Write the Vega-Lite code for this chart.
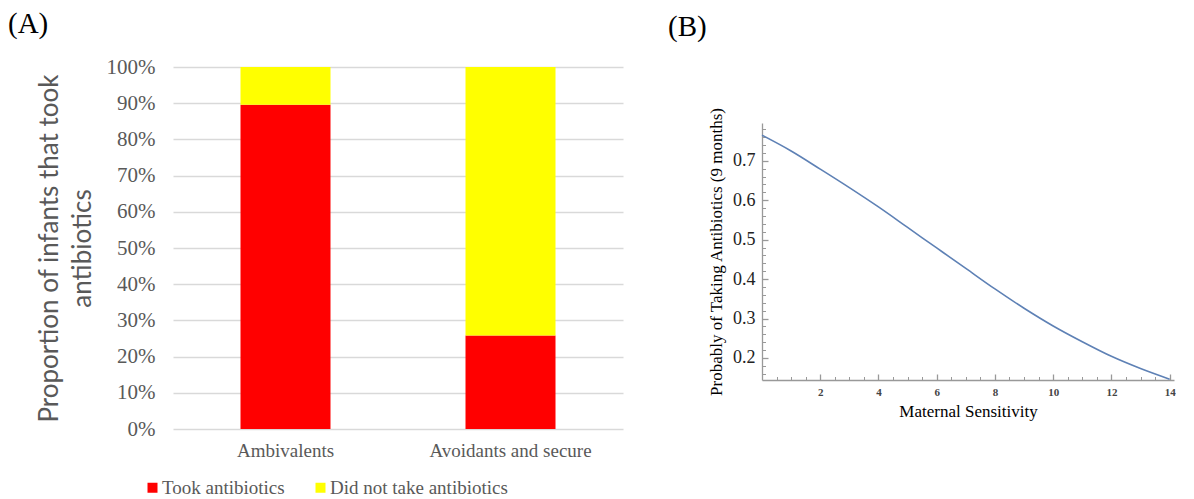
{
  "$schema": "https://vega.github.io/schema/vega-lite/v6.json",
  "background": "white",
  "padding": {"left": 8, "top": 10, "right": 0, "bottom": 0},
  "spacing": 45,
  "config": {"view": {"stroke": null}},
  "hconcat": [
    {
      "title": {"text": "(A)", "anchor": "start", "frame": "group", "dx": -165, "offset": 17, "font": "Liberation Serif", "fontSize": 29, "fontWeight": "normal", "color": "black"},
      "width": 450,
      "height": 362,
      "data": {"values": [
        {"group": "Ambivalents", "status": "Took antibiotics", "proportion": 0.896},
        {"group": "Ambivalents", "status": "Did not take antibiotics", "proportion": 0.104},
        {"group": "Avoidants and secure", "status": "Took antibiotics", "proportion": 0.258},
        {"group": "Avoidants and secure", "status": "Did not take antibiotics", "proportion": 0.742}
      ]},
      "mark": {"type": "bar"},
      "encoding": {
        "x": {"field": "group", "type": "nominal", "sort": null,
          "scale": {"paddingInner": 0.6, "paddingOuter": 0.3},
          "axis": {"title": null, "labelAngle": 0, "domain": false, "ticks": false, "labelFont": "Liberation Serif", "labelFontSize": 19, "labelColor": "#595959", "labelPadding": 12}},
        "y": {"field": "proportion", "type": "quantitative", "stack": "zero",
          "scale": {"domain": [0, 1], "nice": false},
          "axis": {"values": [0, 0.1, 0.2, 0.3, 0.4, 0.5, 0.6, 0.7, 0.8, 0.9, 1], "format": ".0%", "grid": true, "gridColor": "#d9d9d9", "gridWidth": 1.5, "domain": false, "ticks": false,
            "labelFont": "Liberation Serif", "labelFontSize": 21, "labelColor": "#595959", "labelPadding": 18,
            "title": ["Proportion of infants that took", "antibiotics"], "titleFont": "Lato", "titleFontSize": 26, "titleFontWeight": "normal", "titleColor": "#595959", "titlePadding": 11, "titleLineHeight": 33}},
        "color": {"field": "status", "type": "nominal",
          "scale": {"domain": ["Took antibiotics", "Did not take antibiotics"], "range": ["#ff0000", "#ffff00"]},
          "legend": {"title": null, "orient": "none", "legendX": -30, "legendY": 411, "direction": "horizontal", "symbolType": "square", "symbolSize": 100, "symbolStrokeWidth": 0, "labelFont": "Liberation Serif", "labelFontSize": 19, "labelColor": "#595959", "labelLimit": 0, "columnPadding": 26, "labelOffset": 0}},
        "order": {"field": "status", "sort": "descending"}
      }
    },
    {
      "title": {"text": "(B)", "anchor": "start", "frame": "group", "dx": -94, "offset": 25, "font": "Liberation Serif", "fontSize": 29, "fontWeight": "normal", "color": "black"},
      "width": 412,
      "height": 313,
      "data": {"values": [
        {"sensitivity": 0, "probability": 0.765},
        {"sensitivity": 1, "probability": 0.725},
        {"sensitivity": 2, "probability": 0.679},
        {"sensitivity": 3, "probability": 0.632},
        {"sensitivity": 4, "probability": 0.583},
        {"sensitivity": 5, "probability": 0.531},
        {"sensitivity": 6, "probability": 0.479},
        {"sensitivity": 7, "probability": 0.427},
        {"sensitivity": 8, "probability": 0.375},
        {"sensitivity": 9, "probability": 0.326},
        {"sensitivity": 10, "probability": 0.281},
        {"sensitivity": 11, "probability": 0.241},
        {"sensitivity": 12, "probability": 0.204},
        {"sensitivity": 13, "probability": 0.173},
        {"sensitivity": 14, "probability": 0.146}
      ]},
      "layer": [
        {
          "mark": {"type": "line", "interpolate": "monotone", "color": "#5e81b5", "strokeWidth": 1.6},
          "encoding": {
            "x": {"field": "sensitivity", "type": "quantitative", "scale": {"domain": [0, 14.15], "nice": false, "zero": false},
              "axis": {"orient": "bottom", "values": [2, 4, 6, 8, 10, 12, 14], "grid": false, "domainColor": "#999999", "domainWidth": 1.3, "tickColor": "#999999", "tickSize": -6, "tickWidth": 1.3,
                "labelFont": "Liberation Serif", "labelFontSize": 11, "labelFontWeight": "bold", "labelColor": "#444444", "labelPadding": 12,
                "title": "Maternal Sensitivity", "titleFont": "Liberation Serif", "titleFontSize": 17, "titleFontWeight": "normal", "titleColor": "black", "titlePadding": 6}},
            "y": {"field": "probability", "type": "quantitative", "scale": {"domain": [0.144, 0.796], "nice": false, "zero": false, "range": [313, 56]},
              "axis": {"orient": "left", "values": [0.2, 0.3, 0.4, 0.5, 0.6, 0.7], "format": ".1f", "grid": false, "domainColor": "#999999", "domainWidth": 1.3, "tickColor": "#999999", "tickSize": -6, "tickWidth": 1.3,
                "labelFont": "Liberation Serif", "labelFontSize": 18, "labelColor": "#222222", "labelPadding": 13,
                "title": "Probably of Taking Antibiotics (9 months)", "titleFont": "Liberation Serif", "titleFontSize": 17, "titleFontWeight": "normal", "titleColor": "black", "titlePadding": 7}}
          }
        },
        {
          "mark": {"type": "line", "interpolate": "monotone", "opacity": 0},
          "encoding": {
            "x": {"field": "sensitivity", "type": "quantitative",
              "axis": {"orient": "bottom", "values": [0.5, 1, 1.5, 2.5, 3, 3.5, 4.5, 5, 5.5, 6.5, 7, 7.5, 8.5, 9, 9.5, 10.5, 11, 11.5, 12.5, 13, 13.5], "grid": false, "domain": false, "labels": false, "title": null, "tickColor": "#999999", "tickSize": -3.5, "tickWidth": 1}},
            "y": {"field": "probability", "type": "quantitative",
              "axis": {"orient": "left", "values": [0.16, 0.18, 0.22, 0.24, 0.26, 0.28, 0.32, 0.34, 0.36, 0.38, 0.42, 0.44, 0.46, 0.48, 0.52, 0.54, 0.56, 0.58, 0.62, 0.64, 0.66, 0.68, 0.72, 0.74, 0.76, 0.78], "grid": false, "domain": false, "labels": false, "title": null, "tickColor": "#999999", "tickSize": -3.5, "tickWidth": 1}}
          }
        }
      ],
      "resolve": {"axis": {"x": "independent", "y": "independent"}}
    }
  ]
}
